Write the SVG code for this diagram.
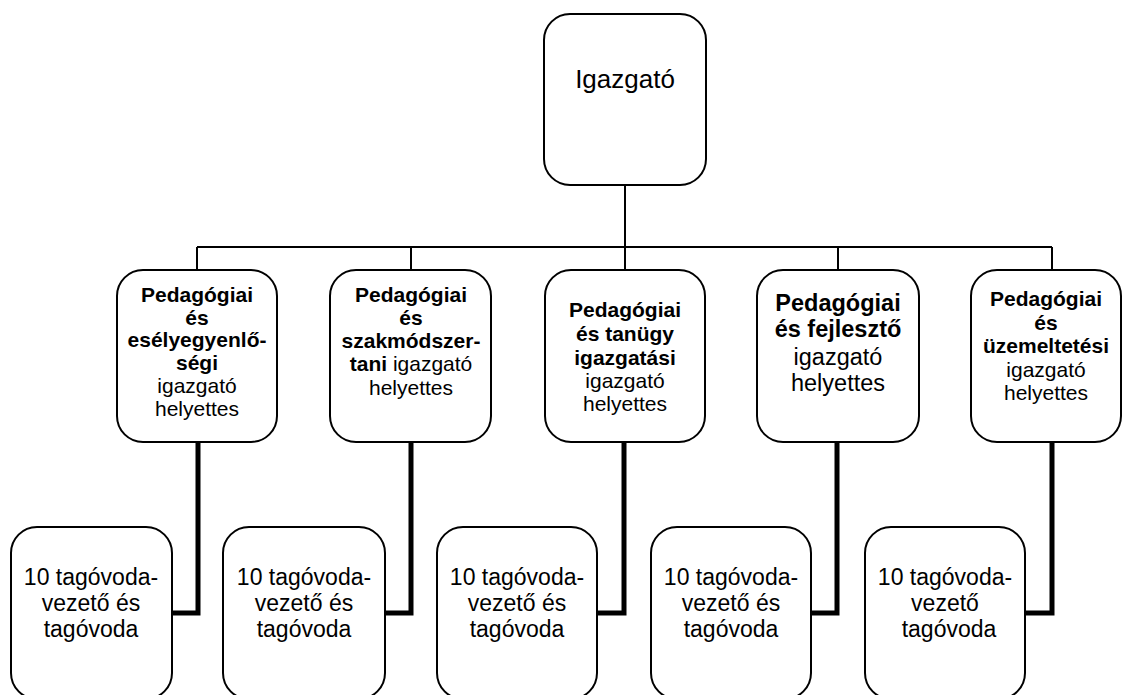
<svg xmlns="http://www.w3.org/2000/svg" width="1122" height="695" viewBox="0 0 1122 695">
<style>
.box{fill:#fff;stroke:#000;stroke-width:2}
.t{font-family:"Liberation Sans",Arial,sans-serif;fill:#000;text-anchor:middle}
.m{font-size:21px}
.b{font-weight:bold}
.thin{fill:none;stroke:#000;stroke-width:2}
.thick{fill:none;stroke:#000;stroke-width:5}
</style>
<rect width="1122" height="695" fill="#fff"/>
<g id="connectors">
<path class="thin" d="M625 185V247M197 247H1052M197 247V270M411 247V270M625 247V270M838 247V270M1052 247V270"/>
<path class="thick" d="M198 442V613H172M411 442V613H385M624 442V613H597M837 442V613H811M1052 442V613H1025"/>
</g>
<g id="igazgato">
<rect class="box" x="544" y="14" width="162" height="171" rx="26"/>
<text class="t" x="625" y="88" font-size="26">Igazgató</text>
</g>
<g id="helyettes1">
<rect class="box" x="117" y="270" width="160" height="172" rx="26"/>
<text class="t m" x="197"><tspan class="b" x="197" y="302">Pedagógiai</tspan><tspan class="b" x="197" y="325">és</tspan><tspan class="b" x="197" y="347">esélyegyenlő-</tspan><tspan class="b" x="197" y="370">ségi</tspan><tspan x="197" y="393">igazgató</tspan><tspan x="197" y="416">helyettes</tspan></text>
</g>
<g id="helyettes2">
<rect class="box" x="330" y="270" width="161" height="172" rx="26"/>
<text class="t m" x="411"><tspan class="b" x="411" y="302">Pedagógiai</tspan><tspan class="b" x="411" y="325">és</tspan><tspan class="b" x="411" y="348">szakmódszer-</tspan><tspan x="411" y="371"><tspan class="b">tani</tspan> igazgató</tspan><tspan x="411" y="395">helyettes</tspan></text>
</g>
<g id="helyettes3">
<rect class="box" x="545" y="270" width="160" height="172" rx="26"/>
<text class="t m" x="625"><tspan class="b" x="625" y="317">Pedagógiai</tspan><tspan class="b" x="625" y="341">és tanügy</tspan><tspan class="b" x="625" y="365">igazgatási</tspan><tspan x="625" y="388">igazgató</tspan><tspan x="625" y="411">helyettes</tspan></text>
</g>
<g id="helyettes4">
<rect class="box" x="757" y="270" width="162" height="172" rx="26"/>
<text class="t" x="838" font-size="23.5"><tspan class="b" x="838" y="311">Pedagógiai</tspan><tspan class="b" x="838" y="337">és fejlesztő</tspan><tspan x="838" y="365">igazgató</tspan><tspan x="838" y="391">helyettes</tspan></text>
</g>
<g id="helyettes5">
<rect class="box" x="971" y="270" width="150" height="172" rx="26"/>
<text class="t m" x="1046"><tspan class="b" x="1046" y="306">Pedagógiai</tspan><tspan class="b" x="1046" y="330">és</tspan><tspan class="b" x="1046" y="353">üzemeltetési</tspan><tspan x="1046" y="377">igazgató</tspan><tspan x="1046" y="400">helyettes</tspan></text>
</g>
<g id="tagovoda1">
<rect class="box" x="11" y="527" width="161" height="172" rx="26"/>
<text class="t" font-size="23"><tspan x="91" y="585">10 tagóvoda-</tspan><tspan x="91" y="611">vezető és</tspan><tspan x="91" y="637">tagóvoda</tspan></text>
</g>
<g id="tagovoda2">
<rect class="box" x="223" y="527" width="162" height="172" rx="26"/>
<text class="t" font-size="23"><tspan x="304" y="585">10 tagóvoda-</tspan><tspan x="304" y="611">vezető és</tspan><tspan x="304" y="637">tagóvoda</tspan></text>
</g>
<g id="tagovoda3">
<rect class="box" x="437" y="527" width="160" height="172" rx="26"/>
<text class="t" font-size="23"><tspan x="517" y="585">10 tagóvoda-</tspan><tspan x="517" y="611">vezető és</tspan><tspan x="517" y="637">tagóvoda</tspan></text>
</g>
<g id="tagovoda4">
<rect class="box" x="651" y="527" width="160" height="172" rx="26"/>
<text class="t" font-size="23"><tspan x="731" y="585">10 tagóvoda-</tspan><tspan x="731" y="611">vezető és</tspan><tspan x="731" y="637">tagóvoda</tspan></text>
</g>
<g id="tagovoda5">
<rect class="box" x="865" y="527" width="160" height="172" rx="26"/>
<text class="t" font-size="23"><tspan x="945" y="585">10 tagóvoda-</tspan><tspan x="945" y="611">vezető</tspan><tspan x="949" y="637">tagóvoda</tspan></text>
</g>
</svg>
